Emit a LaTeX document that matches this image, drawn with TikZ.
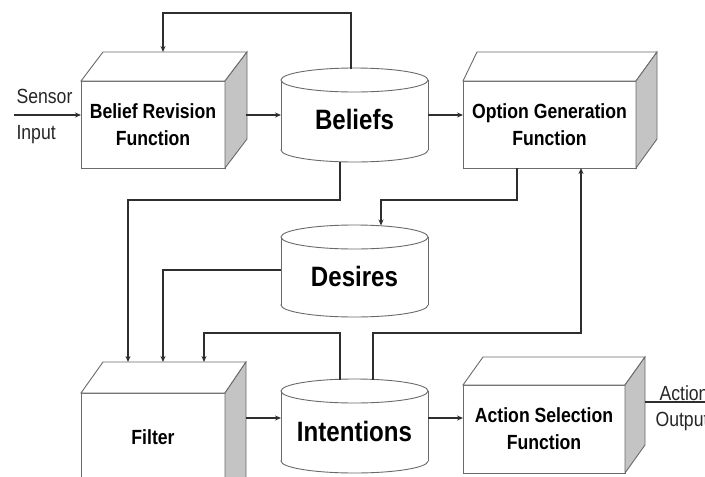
\documentclass[tikz,border=0pt]{standalone}
\usepackage{fontspec}
\setmainfont{Liberation Sans}
\newfontfamily\nf[FakeStretch=0.86]{Liberation Sans}
\usetikzlibrary{arrows.meta}
\definecolor{linec}{HTML}{2E2E2E}
\definecolor{edgec}{HTML}{6A6A6A}
\definecolor{sidec}{HTML}{C4C4C4}
\tikzset{
  conn/.style={draw=linec, line width=1.7pt, -{Stealth[length=6pt,width=5pt]}},
  plainline/.style={draw=linec, line width=1.7pt},
  shapeline/.style={draw=edgec, line width=0.9pt},
  boxlabel/.style={font=\nf\bfseries\fontsize{20.5}{27}\selectfont, align=center, text=black},
  cyllabel/.style={font=\nf\bfseries\fontsize{28}{30}\selectfont, text=black},
  iolabel/.style={font=\nf\fontsize{20.5}{22}\selectfont, anchor=west, text=black!85},
}
\newcommand\boxcube[7]{%
  \filldraw[shapeline, fill=white] (#1,#2) rectangle (#3,#4);
  \filldraw[shapeline, fill=white] (#1,#2) -- ({#1+#5},{#2-#7}) -- ({#3+#6},{#2-#7}) -- (#3,#2) -- cycle;
  \filldraw[shapeline, fill=sidec] (#3,#2) -- ({#3+#6},{#2-#7}) -- ({#3+#6},{#4-#7}) -- (#3,#4) -- cycle;
}
\newcommand\cylshape[3]{%
  \filldraw[shapeline, fill=white] (#1,{#3-12}) ellipse [x radius=73.5pt, y radius=12pt];
  \fill[white] ({#1-73.5},{#2+12}) rectangle ({#1+73.5},{#3-12});
  \draw[shapeline] ({#1-73.5},{#2+12}) -- ({#1-73.5},{#3-12}) ({#1+73.5},{#2+12}) -- ({#1+73.5},{#3-12});
  \filldraw[shapeline, fill=white] (#1,{#2+12}) ellipse [x radius=73.5pt, y radius=12pt];
}
\begin{document}
\begin{tikzpicture}[x=1pt, y=-1pt]
\useasboundingbox (0,0) rectangle (705,477);
\fill[white] (0,0) rectangle (705,477);

% shapes
\boxcube{81}{81}{225}{168}{22}{22}{29}
\boxcube{463}{81}{636}{168}{14}{21}{29}
\boxcube{81}{393}{225}{530}{22}{21}{31}
\boxcube{463}{385}{625}{473}{20}{20}{28}
\cylshape{354.5}{68}{162}
\cylshape{354.5}{225}{317}
\cylshape{354.5}{379}{473}

% attachment points
\coordinate (sin) at (14,115);
\coordinate (brfL) at (81,115);
\coordinate (brfR) at (246,115);
\coordinate (brfT) at (163,52);
\coordinate (belL) at (281,115);
\coordinate (belR) at (428,115);
\coordinate (belT) at (351,68.5);
\coordinate (belB) at (340,161.5);
\coordinate (ogL) at (463,115);
\coordinate (ogB1) at (517,168);
\coordinate (ogB2) at (581,168);
\coordinate (desT) at (381,225.5);
\coordinate (desL) at (281,270);
\coordinate (filT1) at (128,362);
\coordinate (filT2) at (163,362);
\coordinate (filT3) at (204,362);
\coordinate (filR) at (246,418);
\coordinate (intL) at (281,418);
\coordinate (intT1) at (340,379.5);
\coordinate (intT2) at (373,379.5);
\coordinate (intR) at (428,418);
\coordinate (asfL) at (463,418);
\coordinate (asfR) at (645,402);
\coordinate (aout) at (715,402);

% connectors
\draw[conn] (sin) -- (brfL);
\draw[conn] (belT) -- (belT |- 0,13) -| (brfT);
\draw[conn] (brfR) -- (belL);
\draw[conn] (belR) -- (ogL);
\draw[conn] (belB) -- (belB |- 0,200) -| (filT1);
\draw[conn] (ogB1) -- (ogB1 |- 0,200) -| (desT);
\draw[conn] (desL) -| (filT2);
\draw[conn] (intT1) -- (intT1 |- 0,333) -| (filT3);
\draw[conn] (intT2) -- (intT2 |- 0,333) -| (ogB2);
\draw[conn] (filR) -- (intL);
\draw[conn] (intR) -- (asfL);
\draw[plainline] (asfR) -- (aout);

% labels
\node[boxlabel] (brf) at (153,124.5) {Belief Revision\\Function};
\node[boxlabel] (og) at (549.5,124.5) {Option Generation\\Function};
\node[boxlabel] (filt) at (153,437) {Filter};
\node[boxlabel] (asf) at (544,429) {Action Selection\\Function};
\node[cyllabel] (bel) at (354.5,119) {Beliefs};
\node[cyllabel] (des) at (354.5,276) {Desires};
\node[cyllabel] (int) at (354.5,431) {Intentions};
\node[iolabel] (sensor) at (13,96) {Sensor};
\node[iolabel] (input) at (13,135) {Input};
\node[iolabel] (action) at (656,393) {Action};
\node[iolabel] (output) at (652,421) {Output};
\end{tikzpicture}
\end{document}
